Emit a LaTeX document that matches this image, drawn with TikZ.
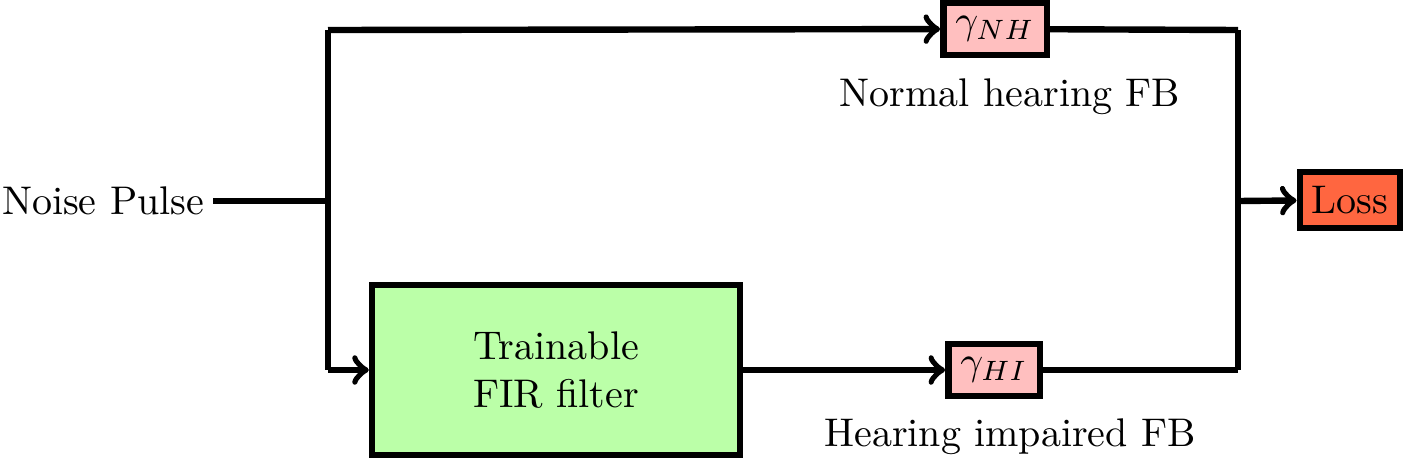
\documentclass[tikz,border=0pt]{standalone}
\usetikzlibrary{positioning}
\definecolor{gpink}{RGB}{255,191,191}
\definecolor{fgreen}{RGB}{187,255,168}
\definecolor{lossc}{RGB}{255,102,64}
\begin{document}
\begin{tikzpicture}[x={(0.25pt,0)},y={(0,-0.25pt)},
  line/.style={line width=1.6pt},
  arr/.style={line width=1.6pt,->},
  gbox/.style={draw,line width=1.6pt,fill=gpink,inner sep=3pt,minimum height=13pt},
  firbox/.style={draw,line width=1.6pt,fill=fgreen,minimum width=92pt,minimum height=42.5pt,align=center},
  lossbox/.style={draw,line width=1.6pt,fill=lossc,minimum height=14pt,inner sep=3pt}]
\useasboundingbox (0,0) rectangle (1404,460);
\node[anchor=east,inner sep=2pt] (np) at (213,201) {Noise Pulse};
\coordinate (s) at (328,201);
\coordinate (st) at (328,30);
\coordinate (sb) at (328,370);
\node[gbox] (nh) at (995,29) {$\gamma_{NH}$};
\node[gbox] (hi) at (994,370) {$\gamma_{HI}$};
\node[firbox] (fir) at (556,370) {Trainable\\FIR filter};
\node[lossbox] (loss) at (1350,200) {Loss};
\node (nhl) at (1010,97) {Normal hearing FB};
\node (hil) at (1010,437) {Hearing impaired FB};
\coordinate (et) at (1238,30);
\coordinate (eb) at (1238,370);
\coordinate (em) at (1238,201);
\draw[line] (np) -- (s);
\draw[line] (st) -- (sb);
\draw[arr] (st) -- (nh);
\draw[arr] (sb) -- (fir);
\draw[arr] (fir) -- (hi);
\draw[line] (nh) -- (et);
\draw[line] (hi) -- (eb);
\draw[line] (et) -- (eb);
\draw[arr] (em) -- (loss);
\end{tikzpicture}
\end{document}
